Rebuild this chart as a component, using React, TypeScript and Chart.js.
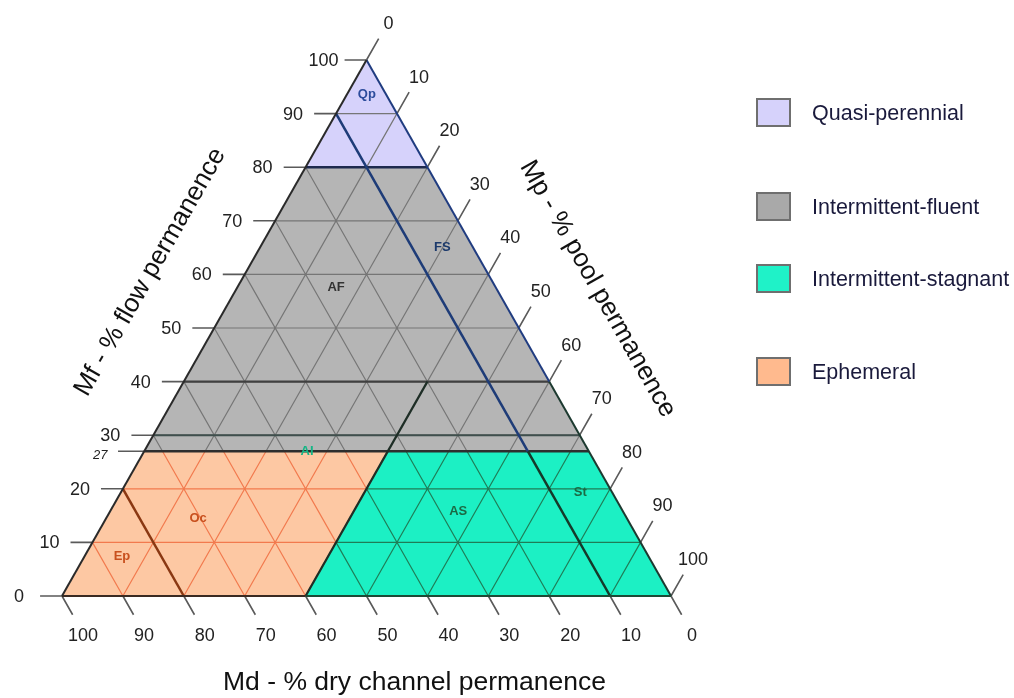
import { useEffect, useRef } from 'react';
import { Chart, registerables } from 'chart.js';

Chart.register(...registerables);

// ---------- data (ternary coordinates are [Mf, Mp]; Md = 100 - Mf - Mp) ----------
type T = [number, number];

const TICK_VALUES = [0, 10, 20, 30, 40, 50, 60, 70, 80, 90, 100];
const GRID_VALUES = [10, 20, 30, 40, 50, 60, 70, 80, 90];
const EXTRA_MF_TICK = 27;

const MF_QUASI = 80; // Mf above which: quasi-perennial
const MF_INTERMITTENT = 27; // Mf below which: ephemeral / stagnant
const MF_AI_TOP = 40;
const MF_AI_MID = 30;
const MP_STAGNANT = 40; // Mp dividing ephemeral / intermittent-stagnant
const MD_FS = 10; // Md line bounding FS
const MF_FS_TOP = 90;
const MD_EP = 80; // Md line bounding Ep
const MF_EP_TOP = 20;

const LEGEND_LABELS = ['Quasi-perennial', 'Intermittent-fluent', 'Intermittent-stagnant', 'Ephemeral'];
const LEGEND_COLORS = ['#d6d2fb', '#a9a9a9', '#1ff2c8', '#ffba8e'];
const REGION_COLORS = ['#d6d2fb', '#b5b5b5', '#1cf0c4', '#fdc8a3'];

const REGION_LABELS = ['Qp', 'FS', 'AF', 'AI', 'Ep', 'Oc', 'AS', 'St'];
const REGION_LABEL_MF = [93.5, 65.1, 57.6, 26.9, 7.3, 14.5, 15.7, 19.4];
const REGION_LABEL_MP = [3.3, 29.9, 16.2, 26.8, 6.2, 15.1, 57.2, 75.4];
const REGION_LABEL_COLORS = ['#2c4c9c', '#1c3a6c', '#333333', '#14b585', '#c8501e', '#c8501e', '#1b6a44', '#1b6a44'];

const AXIS_TITLES = ['Mf - % flow permanence', 'Mp - % pool permanence', 'Md - % dry channel permanence'];

// region polygons
const POLY_QP: T[] = [[100, 0], [MF_QUASI, 0], [MF_QUASI, 100 - MF_QUASI]];
const POLY_IF: T[] = [[MF_QUASI, 0], [MF_INTERMITTENT, 0], [MF_INTERMITTENT, 100 - MF_INTERMITTENT], [MF_QUASI, 100 - MF_QUASI]];
const POLY_IS: T[] = [[MF_INTERMITTENT, MP_STAGNANT], [0, MP_STAGNANT], [0, 100], [MF_INTERMITTENT, 100 - MF_INTERMITTENT]];
const POLY_EP: T[] = [[MF_INTERMITTENT, 0], [0, 0], [0, MP_STAGNANT], [MF_INTERMITTENT, MP_STAGNANT]];

// ---------- helpers ----------
const toXY = ([mf, mp]: T) => ({ x: mp + mf / 2, y: mf });

type Region = { mf: [number, number]; mp: [number, number] };
const UPPER: Region = { mf: [MF_INTERMITTENT, 100], mp: [-1, 101] };
const ORANGE: Region = { mf: [-1, MF_INTERMITTENT], mp: [-1, MP_STAGNANT] };
const GREEN: Region = { mf: [-1, MF_INTERMITTENT], mp: [MP_STAGNANT, 101] };

function clip(a: T, b: T, r: Region): [T, T] | null {
  let t0 = 0;
  let t1 = 1;
  const lim = (p0: number, d: number, lo: number, hi: number) => {
    if (Math.abs(d) < 1e-9) {
      if (p0 < lo - 1e-9 || p0 > hi + 1e-9) { t0 = 1; t1 = 0; }
      return;
    }
    let ta = (lo - p0) / d;
    let tb = (hi - p0) / d;
    if (ta > tb) [ta, tb] = [tb, ta];
    t0 = Math.max(t0, ta);
    t1 = Math.min(t1, tb);
  };
  lim(a[0], b[0] - a[0], r.mf[0], r.mf[1]);
  lim(a[1], b[1] - a[1], r.mp[0], r.mp[1]);
  if (t1 - t0 < 1e-6) return null;
  const p = (t: number): T => [a[0] + t * (b[0] - a[0]), a[1] + t * (b[1] - a[1])];
  return [p(t0), p(t1)];
}

const gridSegments: [T, T][] = [];
GRID_VALUES.forEach((v) => {
  gridSegments.push([[v, 0], [v, 100 - v]]); // Mf = v
  gridSegments.push([[0, v], [100 - v, v]]); // Mp = v
  gridSegments.push([[0, 100 - v], [100 - v, 0]]); // Md = v
});

const clipAll = (r: Region) =>
  gridSegments.map(([a, b]) => clip(a, b, r)).filter((s): s is [T, T] => s !== null);

const flatten = (segs: [T, T][]) => {
  const out: { x: number | null; y: number | null }[] = [];
  segs.forEach(([a, b]) => {
    out.push(toXY(a), toXY(b), { x: null, y: null });
  });
  return out;
};

const lineDs = (segs: [T, T][], color: string, width: number, order: number) => ({
  data: flatten(segs),
  showLine: true,
  borderColor: color,
  borderWidth: width,
  pointRadius: 0,
  fill: false,
  spanGaps: false,
  order,
});

const polyDs = (poly: T[], color: string) => ({
  data: [...poly, poly[0]].map(toXY),
  showLine: true,
  fill: 'shape',
  backgroundColor: color,
  borderColor: 'rgba(0,0,0,0)',
  borderWidth: 0,
  pointRadius: 0,
  order: 100,
});

// ticks
const leftTicks: [T, T][] = TICK_VALUES.map((v) => [[v, 0], [v, -3.6]] as [T, T]);
leftTicks.push([[EXTRA_MF_TICK, 0], [EXTRA_MF_TICK, -4.3]]);
const bottomTicks: [T, T][] = TICK_VALUES.map((v) => [[0, 100 - v], [-3.5, 103.5 - v]] as [T, T]);
const rightTicks: [T, T][] = TICK_VALUES.map((v) => [[100 - v, v], [104 - v, v]] as [T, T]);

const FONT = '"Liberation Sans", Arial, sans-serif';

const textPlugin = {
  id: 'ternaryText',
  afterDatasetsDraw(chart: any) {
    const ctx = chart.ctx as CanvasRenderingContext2D;
    const xs = chart.scales.x;
    const ys = chart.scales.y;
    const P = (mf: number, mp: number) => ({
      x: xs.getPixelForValue(mp + mf / 2),
      y: ys.getPixelForValue(mf),
    });
    ctx.save();
    ctx.textAlign = 'center';
    ctx.textBaseline = 'middle';
    ctx.fillStyle = '#222';
    ctx.font = `18px ${FONT}`;
    TICK_VALUES.forEach((v) => {
      const l = P(v, 0);
      ctx.fillText(String(v), l.x - 43, l.y + 1);
      const b = P(0, 100 - v);
      ctx.fillText(String(v), b.x + 21, b.y + 40);
      const r = P(100 - v, v);
      ctx.fillText(String(v), r.x + 22, r.y - 36);
    });
    ctx.font = `italic 13px ${FONT}`;
    const e = P(EXTRA_MF_TICK, 0);
    ctx.fillText(String(EXTRA_MF_TICK), e.x - 44, e.y + 4);

    // region labels
    ctx.font = `bold 13px ${FONT}`;
    REGION_LABELS.forEach((lab, i) => {
      const p = P(REGION_LABEL_MF[i], REGION_LABEL_MP[i]);
      ctx.fillStyle = REGION_LABEL_COLORS[i];
      ctx.fillText(lab, p.x, p.y);
    });

    // axis titles
    ctx.fillStyle = '#111';
    ctx.font = `26px ${FONT}`;
    const ang = Math.atan2(ys.getPixelForValue(0) - ys.getPixelForValue(100), xs.getPixelForValue(50) - xs.getPixelForValue(0));
    const lt = P(50, 0);
    ctx.save();
    ctx.translate(lt.x - 64, lt.y - 56);
    ctx.rotate(-ang);
    ctx.fillText(AXIS_TITLES[0], 0, 0);
    ctx.restore();
    const rt = P(50, 50);
    ctx.save();
    ctx.translate(rt.x + 79, rt.y - 39);
    ctx.rotate(ang);
    ctx.fillText(AXIS_TITLES[1], 0, 0);
    ctx.restore();
    ctx.font = `26.5px ${FONT}`;
    const bt = P(0, 50);
    ctx.fillText(AXIS_TITLES[2], bt.x + 48, bt.y + 87);

    // legend
    const boxTops = [99, 193, 265, 358];
    LEGEND_LABELS.forEach((lab, i) => {
      ctx.fillStyle = LEGEND_COLORS[i];
      ctx.fillRect(757, boxTops[i], 33, 27);
      ctx.strokeStyle = '#6f6f6f';
      ctx.lineWidth = 2;
      ctx.strokeRect(757, boxTops[i], 33, 27);
      ctx.fillStyle = '#1a1a3c';
      ctx.font = `21.5px ${FONT}`;
      ctx.textAlign = 'left';
      ctx.fillText(lab, 812, boxTops[i] + 15);
    });
    ctx.restore();
  },
};

export default function App() {
  const ref = useRef<HTMLCanvasElement>(null);
  useEffect(() => {
    if (!ref.current) return;
    const datasets: any[] = [
      polyDs(POLY_QP, REGION_COLORS[0]),
      polyDs(POLY_IF, REGION_COLORS[1]),
      polyDs(POLY_IS, REGION_COLORS[2]),
      polyDs(POLY_EP, REGION_COLORS[3]),
      lineDs(clipAll(UPPER), '#767676', 1.2, 50),
      lineDs(clipAll(ORANGE), '#f27a4e', 1.2, 50),
      lineDs(clipAll(GREEN), '#1f7d57', 1.2, 50),
      lineDs(leftTicks, '#5a5a5a', 1.6, 40),
      lineDs(bottomTicks, '#5a5a5a', 1.6, 40),
      lineDs(rightTicks, '#5a5a5a', 1.6, 40),
      lineDs([[[MF_AI_TOP, 0], [MF_AI_TOP, 100 - MF_AI_TOP]]], '#404040', 2.2, 20),
      lineDs([[[MF_AI_MID, 0], [MF_AI_MID, 100 - MF_AI_MID]]], '#3f4f4d', 2, 20),
      lineDs([[[MF_INTERMITTENT, 0], [MF_INTERMITTENT, 100 - MF_INTERMITTENT]]], '#2e2e2e', 2.5, 20),
      lineDs([[[0, MP_STAGNANT], [MF_AI_TOP, MP_STAGNANT]]], '#1e2e26', 2.2, 15),
      lineDs([[[MF_EP_TOP, 0], [0, 100 - MD_EP]]], '#8a3812', 2.5, 15),
      lineDs([[[MF_FS_TOP, 100 - MD_FS - MF_FS_TOP], [MF_INTERMITTENT, 100 - MD_FS - MF_INTERMITTENT]]], '#1e3c78', 2.5, 15),
      lineDs([[[MF_INTERMITTENT, 100 - MD_FS - MF_INTERMITTENT], [0, 100 - MD_FS]]], '#153a2a', 2.5, 15),
      lineDs([[[MF_QUASI, 0], [MF_QUASI, 100 - MF_QUASI]]], '#1e2a4e', 2.5, 15),
      lineDs([[[0, 0], [100, 0]]], '#2a2a2a', 2, 10),
      lineDs([[[0, 0], [0, MP_STAGNANT]]], '#3a2a22', 2, 10),
      lineDs([[[0, MP_STAGNANT], [0, 100]]], '#1d4a35', 2, 10),
      lineDs([[[100, 0], [MF_AI_TOP, 100 - MF_AI_TOP]]], '#203c80', 2, 10),
      lineDs([[[MF_AI_TOP, 100 - MF_AI_TOP], [0, 100]]], '#1d3a30', 2, 10),
    ];
    const chart = new Chart(ref.current, {
      type: 'scatter',
      data: { datasets },
      options: {
        animation: false,
        responsive: true,
        maintainAspectRatio: false,
        events: [],
        layout: { padding: 0 },
        plugins: { legend: { display: false }, tooltip: { enabled: false } },
        scales: {
          x: { type: 'linear', min: -10.18, max: 156.32, display: false },
          y: { type: 'linear', min: -19.03, max: 111.19, display: false },
        },
      },
      plugins: [textPlugin],
    } as any);
    return () => chart.destroy();
  }, []);
  return (
    <div style={{ position: 'fixed', left: 0, top: 0, width: 1014, height: 698, background: '#fff' }}>
      <canvas ref={ref} />
    </div>
  );
}
